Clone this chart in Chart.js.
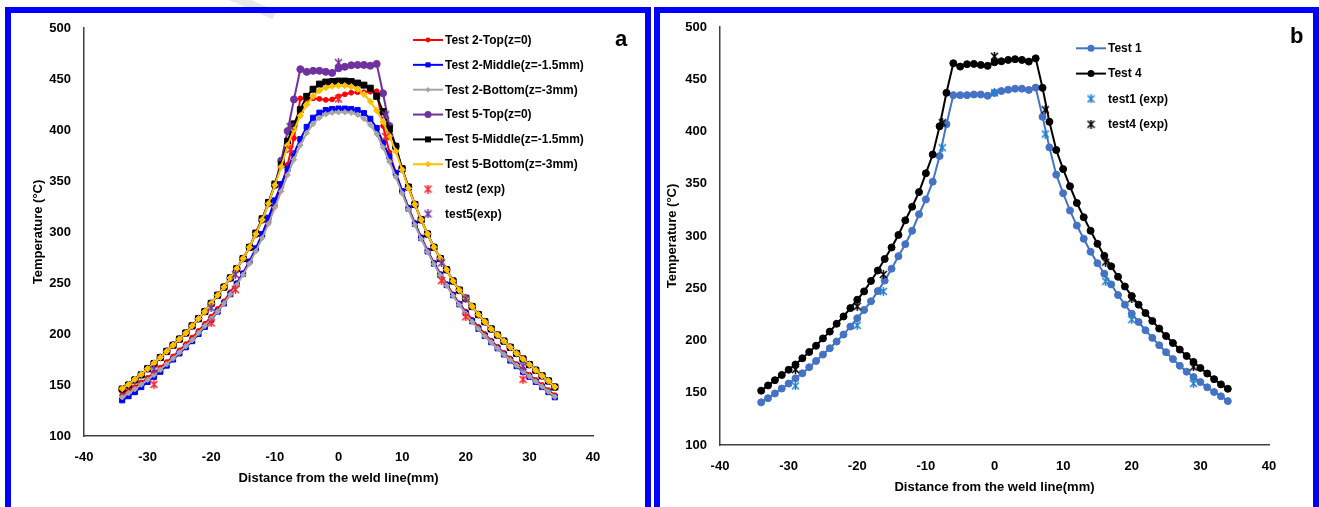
<!DOCTYPE html>
<html>
<head>
<meta charset="utf-8">
<script src="https://cdn.jsdelivr.net/npm/chart.js@4.4.0/dist/chart.umd.min.js"></script>
<style>
  body { margin: 0; width: 1319px; height: 507px; overflow: hidden; position: relative; background: #fff; font-family: "Liberation Sans", Arial, sans-serif; }
  canvas { position: absolute; top: 0; }
  .frame { position: absolute; box-sizing: border-box; border: 6px solid #0000ff; pointer-events: none; }
  .tag { position: absolute; font-weight: bold; font-size: 22px; color: #000; }
  .smear { position: absolute; left: 196px; top: -6px; width: 82px; height: 9px; background: #e2e2e2; transform: rotate(24deg); opacity: .8; }
</style>
</head>
<body>
<canvas id="chartA" width="650" height="507" style="left:0"></canvas>
<canvas id="chartB" width="669" height="507" style="left:650px"></canvas>
<div class="smear"></div>
<div class="frame" style="left:5px;top:7px;width:646px;height:530px"></div>
<div class="frame" style="left:654px;top:7px;width:665px;height:530px"></div>
<div class="tag" style="left:615px;top:26px">a</div>
<div class="tag" style="left:1290px;top:23px">b</div>
<script>
// distance from weld line (mm), one node per mm
const distance = [-34, -33, -32, -31, -30, -29, -28, -27, -26, -25, -24, -23, -22, -21, -20, -19, -18, -17,
  -16, -15, -14, -13, -12, -11, -10, -9, -8, -7, -6, -5, -4, -3, -2, -1, 0, 1, 2, 3, 4, 5, 6, 7, 8, 9,
  10, 11, 12, 13, 14, 15, 16, 17, 18, 19, 20, 21, 22, 23, 24, 25, 26, 27, 28, 29, 30, 31, 32, 33, 34];
const expDistance = [-29, -20, -16.2, -7.6, 0, 7.4, 16.2, 20, 29];

// panel a - simulated temperatures (°C)
const test2Top = [140, 144, 148, 152.5, 157, 162, 167, 172.5, 178, 184, 190, 196.5, 203, 210, 217, 224.5, 232, 241,
  250, 260, 271, 283, 296, 310, 326, 344, 366, 392,
  431, 430, 431, 430.5, 429.5, 430, 433, 435, 436.5, 437, 437, 437.5, 438,
  404, 378, 358, 340, 324, 309, 295, 282, 270, 259, 249, 239, 230, 222, 214, 207, 200, 193.5, 187.5, 181.5,
  176, 170.5, 165, 160, 155, 150, 145, 140];
const test2Middle = [135, 139, 143, 148, 153, 158, 163, 169, 175, 181, 187, 193, 200, 207, 214, 222, 230, 239,
  249, 259, 271, 284, 298, 314, 331, 347, 362, 377,
  391, 403, 412, 417, 419.5, 420.5, 421, 421, 420.5, 419.5, 416.5, 411, 402,
  388, 374, 358, 340, 323, 308, 294, 281, 269, 258, 248, 238, 229, 220.5, 212.5, 205, 198, 192, 186, 180,
  174, 168.5, 163, 158, 153, 148, 143, 138];
const test2Bottom = [138, 142, 146, 150.5, 155, 160, 165, 170.5, 176, 182, 188, 194, 201, 208, 215, 222, 230, 239,
  248, 258, 269, 281, 294, 308, 324, 340, 356, 371,
  385, 397, 406, 412, 415.5, 417, 417.5, 417.5, 417, 415, 411, 405, 396,
  383, 369, 354, 338, 322, 307, 293, 280.5, 268.5, 257.5, 247.5, 237.5, 228.5, 220, 212, 205, 198, 192, 186, 180,
  174.5, 169, 163.5, 158.5, 153.5, 148.5, 143.5, 138.5];
const test5Top = [146, 150, 155, 160, 166, 171, 177, 183, 189, 195, 201, 208, 215, 222, 230, 238, 246, 255,
  264, 274, 285, 298, 312, 328, 346, 370, 399, 430,
  459.6, 457, 458, 458, 457, 456, 460.5, 462, 463.5, 463.8, 463.8, 463, 464.8,
  436, 404, 384, 362, 344, 327, 312, 298, 285, 274, 263, 252, 243, 235, 227, 219, 212, 205, 199, 193,
  187, 181, 175.5, 170, 164.5, 159, 154, 148];
const test5Middle = [146, 150, 155, 160, 166, 171, 177, 183, 189, 195, 201, 208, 215, 222, 230, 238, 246, 255,
  264, 274, 285, 299, 313, 329, 347, 366, 389, 406,
  420, 433, 440, 445, 447, 447.5, 448, 448, 447.5, 446, 444, 441, 433,
  418, 401, 384, 362, 344, 327, 312, 298, 285, 274, 263, 252, 243, 235, 227, 219, 212, 205, 199, 193,
  187, 181, 175.5, 170, 164.5, 159, 154, 148];
const test5Bottom = [146.5, 150.5, 155.5, 160.5, 166, 171.5, 177, 183, 189, 195, 201, 208, 215, 222, 230, 238, 246, 255,
  264, 274, 285, 298, 312, 328, 346, 364, 385, 400,
  414, 425, 433, 438.5, 441.5, 443, 443.5, 443.5, 442.5, 440, 435, 428, 419,
  408, 394, 379, 361, 343, 327, 312, 298, 285, 274, 263, 252, 243, 235, 227, 219, 212, 205, 199, 193,
  187, 181, 175.5, 170, 164.5, 159, 154, 148];
const test2Exp = [150.6, 210.9, 243.6, 381, 430.5, 393.6, 252.4, 216.9, 155.5];
const test5Exp = [165.5, 225.7, 258.3, 403.4, 466, 414.8, 269.7, 234.5, 168.5];

// panel b - simulated temperatures (°C)
const test1 = [140.8, 144.8, 149.3, 154, 158.8, 163.8, 168.6, 174.4, 180.4, 186.5, 192.6, 199, 205.7, 213.3,
  221.3, 229.2, 237.5, 247.3, 257.3, 268.7, 280.7, 292.2, 305, 320.8, 335, 352, 376.5, 407,
  434.8, 434.8, 434.8, 435.4, 435.4, 434.2, 437, 438.7, 440, 441, 441, 439.8, 442,
  414, 384.8, 358.7, 340.9, 324.3, 310, 297.3, 284.9, 274, 263.9, 253.7, 243.5, 234.3, 225.7, 217.7,
  209.8, 202.5, 195.5, 188.8, 182.2, 175.8, 170.1, 165, 160.2, 155.2, 150.7, 146.6, 142];
const test4 = [152, 157, 162, 167, 172, 177, 183, 189, 195, 202, 208.5, 216, 223, 231, 239, 247, 257, 267,
  278, 289, 301, 315, 328, 342, 360, 378, 405, 437,
  465.3, 462.1, 464.4, 464.7, 463.7, 462.8, 466.3, 467.2, 468.5, 469.2, 468.5, 466.9, 470,
  441.8, 409.3, 382.3, 364, 347.6, 331.6, 318, 305, 292.5, 281, 271, 261, 251.7, 242.5, 234.3, 226.3,
  218.7, 211.4, 204.3, 197.6, 191.3, 185.2, 179.5, 173.7, 168.4, 163, 158, 153.8];
const test1Exp = [156.6, 214.5, 247, 384.5, 437, 397.6, 256.6, 220, 158.8];
const test4Exp = [172.3, 232.7, 263.2, 408.4, 472, 420.8, 275, 240, 174.7];

const yTicks = { min: 100, max: 500, step: 50 };
const xTicks = { min: -40, max: 40, step: 10 };

const FONT = '"Liberation Sans", Arial, sans-serif';
Chart.defaults.font.family = FONT;
Chart.defaults.font.weight = 'bold';
Chart.defaults.color = '#000';

// asterisk marker (x plus a vertical stroke) for measured points
function starMarker(color) {
  const c = document.createElement('canvas');
  c.width = 9; c.height = 9;
  const g = c.getContext('2d');
  g.strokeStyle = color;
  g.lineWidth = 1.5;
  g.beginPath();
  g.moveTo(1, 1); g.lineTo(8, 8);
  g.moveTo(8, 1); g.lineTo(1, 8);
  g.moveTo(4.5, 0); g.lineTo(4.5, 9);
  g.stroke();
  return c;
}

function series(label, ys, color, style, radius) {
  return {
    label,
    data: distance.map((x, i) => ({ x, y: ys[i] })),
    borderColor: color,
    backgroundColor: color,
    pointBackgroundColor: color,
    pointBorderColor: color,
    pointStyle: style,
    pointRadius: radius,
    pointBorderWidth: 1,
    borderWidth: 2,
    tension: 0
  };
}

function measured(label, ys, color) {
  return {
    label,
    data: expDistance.map((x, i) => ({ x, y: ys[i] })),
    showLine: false,
    borderColor: color,
    backgroundColor: color,
    pointStyle: starMarker(color),
    pointRadius: 4
  };
}

function drawMark(ctx, style, r, color, x, y) {
  if (typeof style === 'object') {
    ctx.drawImage(style, x - style.width / 2, y - style.height / 2);
    return;
  }
  ctx.fillStyle = color;
  ctx.beginPath();
  if (style === 'rect') {
    const s = r * Math.SQRT1_2;
    ctx.rect(x - s, y - s, 2 * s, 2 * s);
  } else if (style === 'rectRot') {
    ctx.moveTo(x - r, y); ctx.lineTo(x, y - r); ctx.lineTo(x + r, y); ctx.lineTo(x, y + r); ctx.closePath();
  } else {
    ctx.arc(x, y, r, 0, Math.PI * 2);
  }
  ctx.fill();
}

// legend drawn inside the plot, next to the curves
const insideLegend = {
  id: 'insideLegend',
  afterDraw(chart, args, opts) {
    const ctx = chart.ctx;
    ctx.save();
    ctx.font = 'bold 12px ' + FONT;
    ctx.textBaseline = 'middle';
    chart.data.datasets.forEach((ds, i) => {
      const y = opts.top + i * opts.gap;
      const x = opts.left;
      if (ds.showLine !== false) {
        ctx.strokeStyle = ds.borderColor;
        ctx.lineWidth = 2;
        ctx.beginPath(); ctx.moveTo(x, y); ctx.lineTo(x + 30, y); ctx.stroke();
      }
      drawMark(ctx, ds.pointStyle, ds.pointRadius, ds.borderColor, x + 15, y);
      ctx.fillStyle = '#000';
      ctx.fillText(ds.label, x + 32, y + 0.5);
    });
    ctx.restore();
  }
};

function scales(yWidth, xHeight, yTitlePad, xTitlePad) {
  const tickFont = { size: 13, weight: 'bold' };
  return {
    x: {
      type: 'linear', min: xTicks.min, max: xTicks.max,
      ticks: { stepSize: xTicks.step, padding: 14, font: tickFont, color: '#000' },
      grid: { display: false, drawTicks: false },
      border: { color: '#404040', width: 1.5 },
      title: { display: true, text: 'Distance from the weld line(mm)', font: tickFont, color: '#000',
               padding: { top: 0, bottom: xTitlePad } },
      afterFit: s => { s.height = xHeight; }
    },
    y: {
      type: 'linear', min: yTicks.min, max: yTicks.max,
      ticks: { stepSize: yTicks.step, padding: 13, font: tickFont, color: '#000' },
      grid: { display: false, drawTicks: false },
      border: { color: '#404040', width: 1.5 },
      title: { display: true, text: 'Temperature (°C)', font: tickFont, color: '#000',
               padding: { top: yTitlePad, bottom: 0 } },
      afterFit: s => { s.width = yWidth; }
    }
  };
}

function makeChart(id, datasets, padding, axisFit, legendPos) {
  // later series sit on top of earlier ones
  datasets.forEach((ds, i) => { ds.order = datasets.length - i; });
  return new Chart(document.getElementById(id), {
    type: 'line',
    data: { datasets },
    plugins: [insideLegend],
    options: {
      responsive: false,
      animation: false,
      devicePixelRatio: 1,
      layout: { padding },
      scales: scales(...axisFit),
      plugins: {
        legend: { display: false },
        tooltip: { enabled: false },
        insideLegend: legendPos
      }
    }
  });
}

makeChart('chartA', [
  series('Test 2-Top(z=0)', test2Top, '#ff0000', 'circle', 2.4),
  series('Test 2-Middle(z=-1.5mm)', test2Middle, '#0000ff', 'rect', 3.6),
  series('Test 2-Bottom(z=-3mm)', test2Bottom, '#a5a5a5', 'rectRot', 2.8),
  series('Test 5-Top(z=0)', test5Top, '#7030a0', 'circle', 3.5),
  series('Test 5-Middle(z=-1.5mm)', test5Middle, '#000000', 'rect', 4.2),
  series('Test 5-Bottom(z=-3mm)', test5Bottom, '#ffc000', 'rectRot', 3.2),
  measured('test2 (exp)', test2Exp, '#ff2020'),
  measured('test5(exp)', test5Exp, '#7030a0')
], { left: 24, top: 28, right: 57, bottom: 0 }, [60, 71, 7, 21], { left: 413, top: 40, gap: 24.85 });

makeChart('chartB', [
  series('Test 1', test1, '#4472c4', 'circle', 3.5),
  series('Test 4', test4, '#000000', 'circle', 3.5),
  measured('test1 (exp)', test1Exp, '#1f7fd0'),
  measured('test4 (exp)', test4Exp, '#000000')
], { left: 12, top: 27, right: 50, bottom: 0 }, [58, 62, 3, 12], { left: 426, top: 48.3, gap: 25.3 });
</script>
</body>
</html>
